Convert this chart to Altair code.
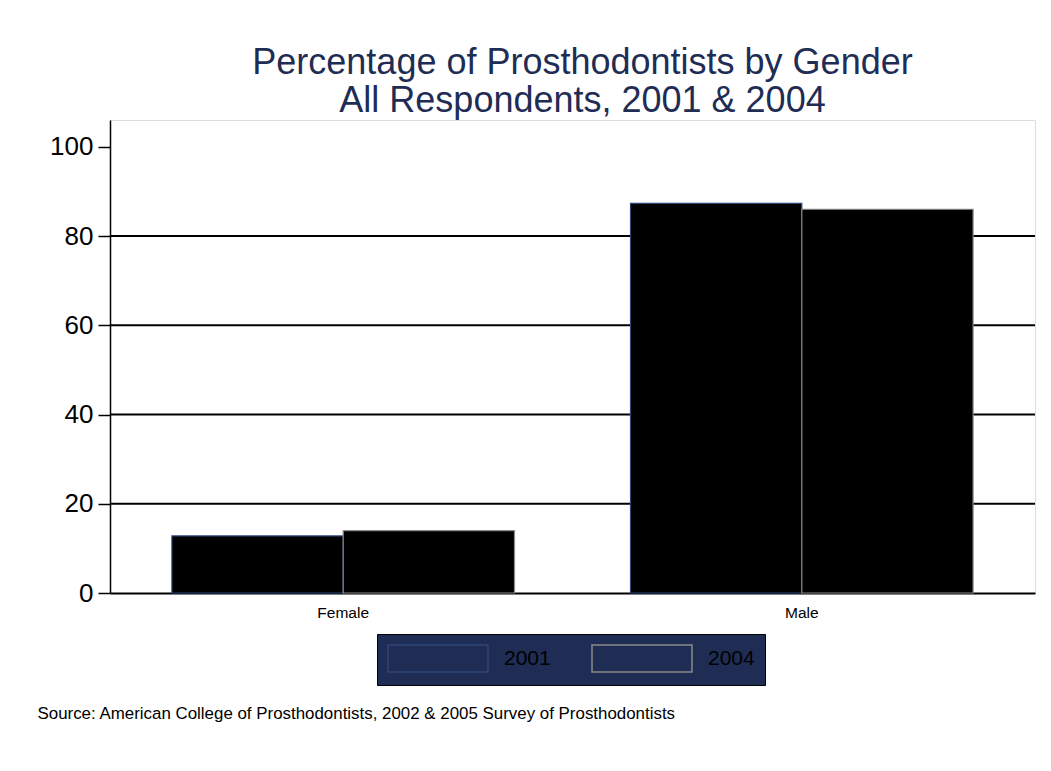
import altair as alt
import pandas as pd

genders = ["Female", "Male"]
years = ["2001", "2004"]
pct_2001 = [12.8, 87.3]
pct_2004 = [14.0, 86.0]
grid_values = [20, 40, 60, 80]
y_ticks = [0, 20, 40, 60, 80, 100]
stroke_colors = ["#2c4678", "#8a8a8a"]

rows = []
for g, a, b in zip(genders, pct_2001, pct_2004):
    rows.append({"gender": g, "year": "2001", "pct": a})
    rows.append({"gender": g, "year": "2004", "pct": b})
df = pd.DataFrame(rows)
grid_df = pd.DataFrame({"v": grid_values})

FONT = "Liberation Sans"
NAVY = "#1f2d55"

ydom = [0, 106]

grid = alt.Chart(grid_df).mark_rule(color="black", strokeWidth=2).encode(
    y=alt.Y("v:Q", scale=alt.Scale(domain=ydom, nice=False, zero=True))
)

# legend symbol: 100 x 27 rectangle, starting at the symbol's left edge
SYM = "M-1,-1L6.407,-1L6.407,1L-1,1Z"

x_enc = alt.X(
    "gender:N",
    sort=genders,
    scale=alt.Scale(paddingInner=0.253, paddingOuter=0.135),
    axis=alt.Axis(
        title="Source: American College of Prosthodontists, 2002 & 2005 Survey of Prosthodontists",
        titleX=-73,
        titleY=120,
        titleAlign="left",
        titleAnchor="start",
        titleBaseline="middle",
        titleFont=FONT,
        titleFontSize=16.9,
        titleFontWeight="normal",
        titleColor="black",
        labelAngle=0,
        labelFont=FONT,
        labelFontSize=15.5,
        labelColor="black",
        labelPadding=12,
        ticks=False,
        domainColor="black",
        domainWidth=2,
    ),
)
y_enc = alt.Y(
    "pct:Q",
    scale=alt.Scale(domain=ydom, nice=False, zero=True),
    axis=alt.Axis(
        title=None,
        values=y_ticks,
        grid=False,
        labelFont=FONT,
        labelFontSize=26,
        labelColor="black",
        labelPadding=5,
        tickSize=12,
        tickColor="black",
        tickWidth=1.5,
        domainColor="black",
        domainWidth=1.5,
    ),
)
xoff_enc = alt.XOffset("year:N", sort=years, scale=alt.Scale(paddingInner=0, paddingOuter=0))

bars = alt.Chart(df).mark_bar(fill="black", strokeWidth=1.2, fillOpacity=1).encode(
    x=x_enc,
    xOffset=xoff_enc,
    y=y_enc,
    stroke=alt.condition(
        "datum.year == '2001'", alt.value(stroke_colors[0]), alt.value(stroke_colors[1])
    ),
)

legend_layer = (
    alt.Chart(df)
    .transform_filter("false")
    .mark_bar(fill=NAVY, strokeWidth=1.5, fillOpacity=1)
    .encode(
        x=alt.X("gender:N", sort=genders),
        y=alt.Y("pct:Q"),
        stroke=alt.Stroke(
            "year:N",
            sort=years,
            scale=alt.Scale(domain=years, range=stroke_colors),
            legend=alt.Legend(
                title=None,
                orient="none",
                legendX=267,
                legendY=514,
                direction="horizontal",
                fillColor=NAVY,
                strokeColor="black",
                padding=10,
                symbolType=SYM,
                symbolSize=729,
                symbolStrokeWidth=1.5,
                symbolFillColor=NAVY,
                labelFont=FONT,
                labelFontSize=21,
                labelColor="black",
                labelOffset=88,
                columnPadding=38,
            ),
        ),
    )
)

chart = (
    alt.layer(grid, bars, legend_layer)
    .properties(
        width=925,
        height=473,
        autosize=alt.AutoSizeParams(type="none"),
        padding={"left": 102, "top": 112, "right": 8, "bottom": 150},
        title=alt.Title(
            text=["Percentage of Prosthodontists by Gender", "All Respondents, 2001 & 2004"],
            font=FONT,
            fontSize=36,
            fontWeight="normal",
            lineHeight=38,
            color=NAVY,
            anchor="middle",
            dx=10,
            offset=0,
        ),
    )
    .configure_view(stroke=None)
    .configure(background="white")
)

chart.save("out.html", embed_options={"renderer": "svg", "actions": False})
